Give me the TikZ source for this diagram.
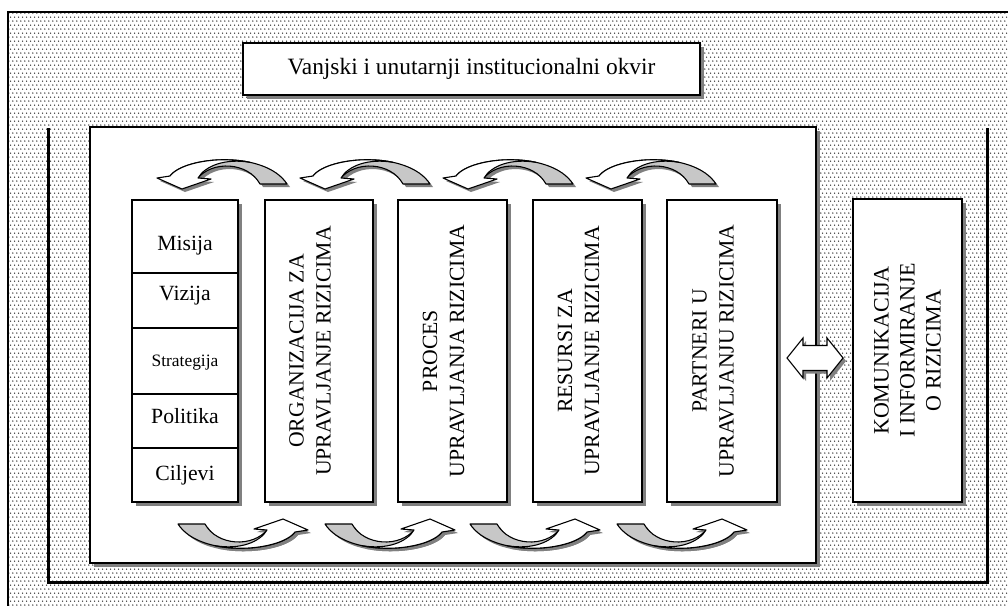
\documentclass[tikz,border=0pt]{standalone}
\usepackage{fontspec}
\setmainfont{Liberation Serif}
\usetikzlibrary{shadows,patterns.meta,calc}
\tikzdeclarepattern{
  name=bgdots,
  type=uncolored,
  bounding box={(0pt,0pt) and (4.2pt,8.4pt)},
  tile size={(4.2pt,8.4pt)},
  code={
    \pgfpathcircle{\pgfqpoint{1pt}{1pt}}{0.8pt}
    \pgfpathcircle{\pgfqpoint{3.1pt}{5.2pt}}{0.8pt}
    \pgfusepath{fill}
  }
}
\begin{document}
\begin{tikzpicture}[x=1pt,y=-1pt,
  shad/.style={drop shadow={shadow xshift=4pt,shadow yshift=-4pt,fill=black!50,opacity=1}},
  box/.style={draw=black,fill=white,line width=1.6pt,inner sep=0pt,outer sep=0pt},
  cell/.style={draw=black,line width=1.3pt,inner sep=0pt,minimum width=106pt},
  lbl/.style={font=\fontsize{21.7}{26}\selectfont,inner sep=0pt},
  vlbl/.style={rotate=90,align=center,inner sep=0pt,font=\fontsize{21.7}{27}\selectfont},
  arrgrey/.style={fill=black!22,draw=black,line width=1.1pt,line join=round},
  arrwhite/.style={fill=white,draw=black,line width=1.1pt,line join=round},
  curvarr/.pic={
    \path[arrgrey] (15,16) .. controls (30,-4) and (110,-10) .. (132,24) -- (105,24) .. controls (93,2) and (57,0) .. (42,19) -- cycle;
    \path[arrwhite] (15,16) .. controls (25,2.67) and (63.89,-4.44) .. (95.22,2.37) .. controls (70,-2) and (50,6) .. (43,18) -- (56,19) -- (27,29) -- (2,18) -- cycle;
  },
  shadowpic/.style={arrgrey/.style={fill=black!50},arrwhite/.style={fill=black!50}}
]
\useasboundingbox (0,0) rectangle (1008,605);
\clip (0,0) rectangle (1008,605);
% background
\path[pattern=bgdots,pattern color=black!90] (8,12) rectangle (1015,615);
\draw[line width=1.5pt] (8,615) -- (8,12) -- (1015,12);
% title
\node[box,shad,minimum width=457pt,minimum height=52pt,font=\fontsize{23.4}{28}\selectfont] (title) at (471.5,69) {Vanjski i unutarnji institucionalni okvir};
% bracket
\draw[line width=3pt] (48,128) -- (48,582) -- (987,582) -- (987,128);
% main box
\node[box,shad,line width=2.5pt,minimum width=726pt,minimum height=436pt] (main) at (453,345) {};
% curved arrows (shadows first)
\foreach \x in {155,298,441,584} {
  \pic[shadowpic] at (\x+3,163) {curvarr};
}
\foreach \x in {310,457,602,749} {
  \pic[shadowpic,rotate=180] at (\x+3,551) {curvarr};
}
\foreach \x in {155,298,441,584} {
  \pic at (\x,160) {curvarr};
}
\foreach \x in {310,457,602,749} {
  \pic[rotate=180] at (\x,548) {curvarr};
}
% left stack
\node[box,shad,minimum width=106pt,minimum height=302pt] (stack) at (185,351) {};
\node[cell,minimum height=73pt] (cmis) at (185,236.5) {};
\node[cell,minimum height=55pt] (cviz) at (185,300.5) {};
\node[cell,minimum height=66pt] (cstr) at (185,361) {};
\node[cell,minimum height=54pt] (cpol) at (185,421) {};
\node[cell,minimum height=54pt] (ccil) at (185,475) {};
\node[lbl,anchor=base] (tmis) at (185,250) {Misija};
\node[lbl,anchor=base] (tviz) at (185,300) {Vizija};
\node[lbl,anchor=base,font=\fontsize{17.4}{20}\selectfont] (tstr) at (185,366.5) {Strategija};
\node[lbl,anchor=base] (tpol) at (185,423) {Politika};
\node[lbl,anchor=base] (tcil) at (185,480) {Ciljevi};
% columns
\node[box,shad,minimum width=108pt,minimum height=302pt] (org) at (319,351) {};
\node[box,shad,minimum width=109pt,minimum height=302pt] (proc) at (452.5,351) {};
\node[box,shad,minimum width=109pt,minimum height=302pt] (res) at (587.5,351) {};
\node[box,shad,minimum width=110pt,minimum height=302pt] (part) at (722,351) {};
\node[vlbl] (torg) at ($(org.center)+(-9,0)$) {ORGANIZACIJA ZA\\UPRAVLJANJE RIZICIMA};
\node[vlbl] (tproc) at ($(proc.center)+(-9,0)$) {PROCES\\UPRAVLJANJA RIZICIMA};
\node[vlbl] (tres) at ($(res.center)+(-9,0)$) {RESURSI ZA\\UPRAVLJANJE RIZICIMA};
\node[vlbl] (tpart) at ($(part.center)+(-9,0)$) {PARTNERI U\\UPRAVLJANJU RIZICIMA};
% communication box
\node[box,shad,minimum width=109pt,minimum height=303pt] (kom) at (907.5,350.5) {};
\node[vlbl,font=\fontsize{22}{26}\selectfont] (tkom) at (kom.center) {KOMUNIKACIJA\\I INFORMIRANJE\\O RIZICIMA};
% double arrow
\coordinate (dac) at (815,358);
\fill[black!50] ($(dac)+(-25,3)$) -- ++(16,-20) -- ++(0,7.5) -- ++(24,0) -- ++(0,-7.5) -- ++(16,20) -- ++(-16,20) -- ++(0,-7.5) -- ++(-24,0) -- ++(0,7.5) -- cycle;
\draw[fill=white,line width=1.1pt] ($(dac)+(-28,0)$) -- ++(16,-20) -- ++(0,7.5) -- ++(24,0) -- ++(0,-7.5) -- ++(16,20) -- ++(-16,20) -- ++(0,-7.5) -- ++(-24,0) -- ++(0,7.5) -- cycle;
\end{tikzpicture}
\end{document}
